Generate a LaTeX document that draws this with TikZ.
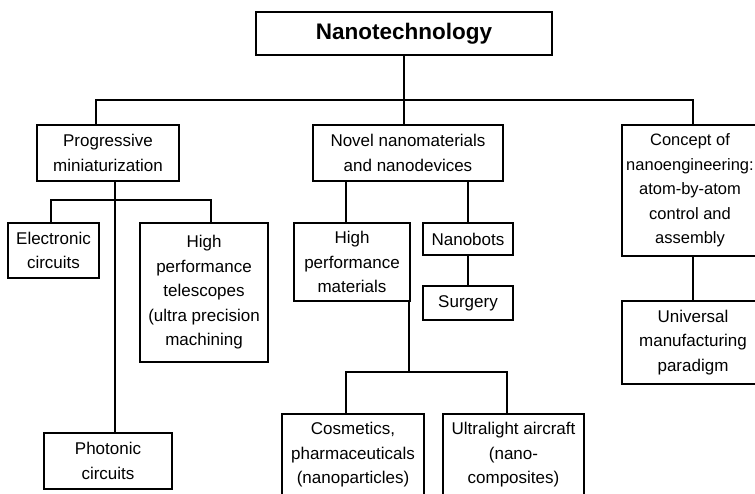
\documentclass[tikz,border=0pt]{standalone}
\usepackage{fontspec}
\setmainfont{Liberation Sans}
\begin{document}
\begin{tikzpicture}[x=1pt,y=-1pt,
  box/.style={draw, line width=1.5pt, inner sep=0pt, align=center,
    font=\fontsize{17}{24.5}\selectfont},
  conn/.style={line width=1.5pt}]
\useasboundingbox (0,0) rectangle (755,494);
\clip (0,0) rectangle (755,494);
\fill[white] (0,0) rectangle (755,494);
% boxes
\node[box, minimum width=296pt, minimum height=43pt, font=\fontsize{22.5}{26}\selectfont\bfseries] (nano) at (404,33.5) {Nanotechnology};
\node[box, minimum width=142pt, minimum height=56pt] (prog) at (108,153) {Progressive\\miniaturization};
\node[box, minimum width=190pt, minimum height=56pt] (novel) at (408,153) {Novel nanomaterials\\and nanodevices};
\node[box, minimum width=136pt, minimum height=131pt, font=\fontsize{16.5}{24.5}\selectfont] (concept) at (690,190.5) {Concept of\\nanoengineering:\\atom-by-atom\\control and\\assembly};
\node[box, minimum width=91pt, minimum height=55pt] (elec) at (53.5,250.5) {Electronic\\circuits};
\node[box, minimum width=128pt, minimum height=139pt] (tele) at (204,292.5) {High\\performance\\telescopes\\(ultra precision\\machining};
\node[box, minimum width=128pt, minimum height=56pt] (photo) at (108,461) {Photonic\\circuits};
\node[box, minimum width=116pt, minimum height=78pt] (hpm) at (352,262) {High\\performance\\materials};
\node[box, minimum width=90pt, minimum height=32pt] (bots) at (468,239) {Nanobots};
\node[box, minimum width=90pt, minimum height=34pt] (surg) at (468,303) {Surgery};
\node[box, minimum width=142pt, minimum height=83pt] (univ) at (693,342.5) {Universal\\manufacturing\\paradigm};
\node[box, minimum width=142pt, minimum height=82pt] (cosm) at (353,455) {Cosmetics,\\pharmaceuticals\\(nanoparticles)};
\node[box, minimum width=141pt, minimum height=82pt] (ultra) at (513.5,455) {Ultralight aircraft\\(nano-\\composites)};
% junction coordinates
\coordinate (t1) at (96,100);
\coordinate (t3) at (693,100);
\coordinate (pv) at (115,200);
\coordinate (e1) at (51,200);
\coordinate (e2) at (211,200);
\coordinate (n1) at (346,200);
\coordinate (h1) at (409,372);
\coordinate (c1) at (346,372);
\coordinate (c2) at (507,372);
% connectors
\draw[conn] (nano.south) -- (nano.south |- novel.north);
\draw[conn] (t1 |- prog.north) -- (t1) -- (t3) -- (t3 |- concept.north);
\draw[conn] (pv |- prog.south) -- (pv |- photo.north);
\draw[conn] (e1 |- elec.north) -- (e1) -- (e2) -- (e2 |- tele.north);
\draw[conn] (n1 |- novel.south) -- (n1 |- hpm.north);
\draw[conn] (bots.north |- novel.south) -- (bots.north);
\draw[conn] (bots.south) -- (surg.north);
\draw[conn] (h1 |- hpm.south east) -- (h1);
\draw[conn] (c1 |- cosm.north) -- (c1) -- (c2) -- (c2 |- ultra.north);
\draw[conn] (t3 |- concept.south) -- (univ.north);
\end{tikzpicture}
\end{document}
